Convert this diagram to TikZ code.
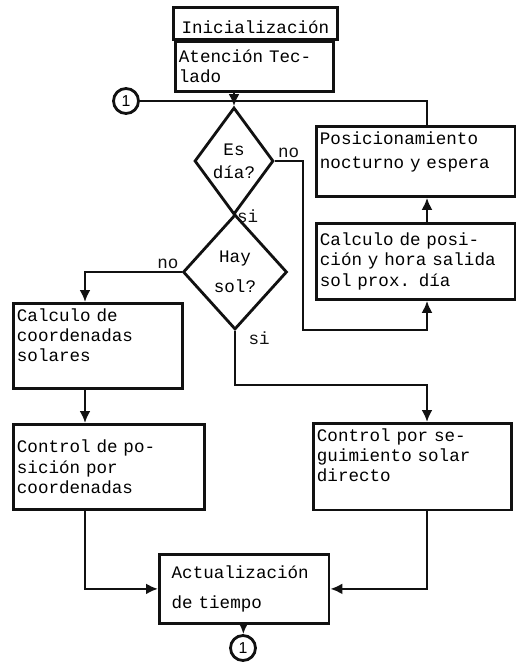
\documentclass[tikz,border=0pt]{standalone}
\usepackage{fontspec}
\setmonofont{Liberation Mono}
\setsansfont{Liberation Sans}
\usepackage{tikz}
\usetikzlibrary{positioning,arrows.meta,shapes.geometric}
\definecolor{flowInk}{HTML}{111111}
\tikzset{
  procbox/.style  = {draw=flowInk, line width=1.6pt, anchor=north west, align=left,
                     inner xsep=2pt, inner ysep=3pt,
                     font=\fontsize{10}{11.5}\selectfont\ttfamily},
  decision/.style = {diamond, draw=flowInk, line width=1.6pt, inner sep=0pt},
  dtext/.style    = {font=\fontsize{10}{13}\selectfont\ttfamily, align=center},
  conn/.style     = {circle, draw=flowInk, line width=1.6pt, inner sep=0pt,
                     minimum size=5mm, font=\sffamily\small},
  wire/.style     = {line width=1.6pt, draw=flowInk},
  flow/.style     = {wire, -{Latex[length=2.4mm, width=2.2mm]}},
  tag/.style      = {font=\fontsize{10}{12}\selectfont\ttfamily, inner sep=1pt, text=flowInk},
}

\begin{document}
\begin{tikzpicture}[x=0.02cm, y=-0.02cm]
  \useasboundingbox (0,0) rectangle (515,666);
  \coordinate (rcol) at (427,0);
  \coordinate (lcol) at (85,0);
  \coordinate (nobend) at (303,330);
  \coordinate (sibend) at (427,385);

  \node[procbox, align=center, text width=3.14cm, minimum height=0.56cm,
        text height=12pt] (ini) at (172,6)
    {Inicialización};
  \node[procbox, text width=3.02cm, minimum height=1.0cm] (aten) at (174,40)
    {Atención Tec-\\lado};
  \node[conn] (c1) at (126,101) {1};

  \node[decision, minimum width=1.58cm, minimum height=2.14cm,
        label={[dtext]center:{Es\\día?}}] (esdia) at (234,161) {};
  \node[decision, minimum width=2.08cm, minimum height=2.3cm,
        label={[dtext]center:{Hay\\[4pt]sol?}}] (hay) at (235,272) {};

  \node[procbox, text width=3.84cm, minimum height=1.4cm, text depth=26pt] (pos) at (315,125)
    {Posicionamiento\\[2pt]nocturno y espera};
  \node[procbox, text width=3.84cm, minimum height=1.52cm] (calpos) at (315,222)
    {Calculo de posi-\\ción y hora salida\\sol prox. día};

  \node[procbox, text width=3.24cm, minimum height=1.66cm, text depth=35pt] (calcoord) at (12,302)
    {Calculo de\\coordenadas\\solares};
  \node[procbox, text width=3.68cm, minimum height=1.7cm] (ctrlpos) at (12,423)
    {Control de po-\\sición por\\coordenadas};
  \node[procbox, text width=3.82cm, minimum height=1.56cm, text depth=36pt] (ctrlseg) at (312,422)
    {Control por se-\\guimiento solar\\directo};

  \node[procbox, inner xsep=7pt, text width=2.9cm, minimum height=1.38cm] (act) at (158,553)
    {Actualización\\[6pt]de tiempo};
  \node[conn] (c2) at (243,648) {1};

  % main column
  \draw[wire] (ini.south -| esdia) -- (aten.north -| esdia);
  \draw[flow] (aten.south -| esdia) -- (esdia.north);
  \draw[wire] (c1) -| (pos.north -| rcol);
  \draw[wire] (esdia.south) node[tag, right] {si} -- (hay.north);

  % night branch
  \draw[flow] (esdia.east) node[tag, above right] {no} -| (nobend) -| (calpos.south -| rcol);
  \draw[flow] (calpos.north -| rcol) -- (pos.south -| rcol);

  % no sun
  \draw[flow] (hay.west) node[tag, above left] {no} -| (calcoord.north -| lcol);
  \draw[flow] (calcoord.south -| lcol) -- (ctrlpos.north -| lcol);
  \draw[flow] (ctrlpos.south -| lcol) |- (act.west);

  % sun
  \draw[flow] (hay.south) node[tag, right, xshift=6pt, yshift=-4pt] {si} |- (sibend)
    -- (ctrlseg.north -| sibend);
  \draw[flow] (ctrlseg.south -| rcol) |- (act.east);
  \draw[flow] (act) -- (c2);
\end{tikzpicture}
\end{document}
